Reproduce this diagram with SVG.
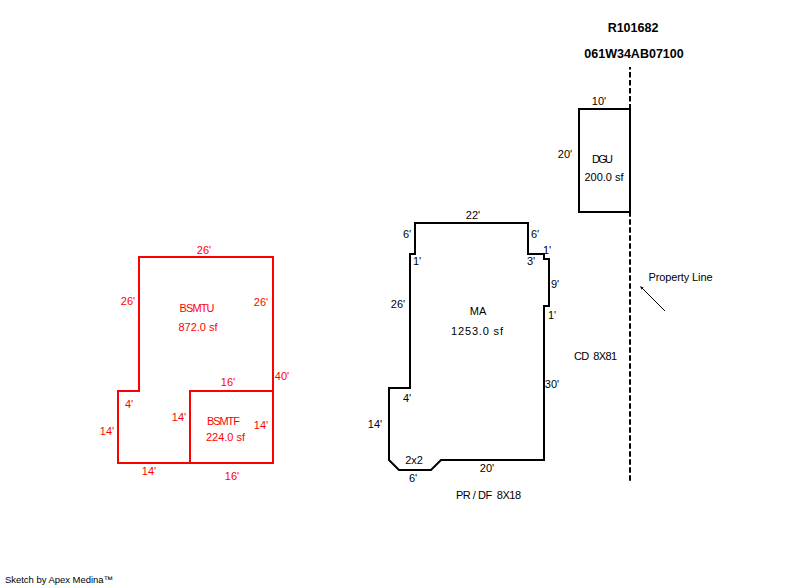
<svg xmlns="http://www.w3.org/2000/svg" width="800" height="587" viewBox="0 0 800 587">
<style>
text{font-family:"Liberation Sans",Arial,sans-serif;font-size:11px;text-anchor:middle;fill:#000;white-space:pre}
.r text{fill:#f00}
.s{fill:none;stroke:#000;stroke-width:2}
.r .s{stroke:#f00}
.b{font-weight:bold;font-size:12.5px}
</style>
<defs><marker id="a" markerWidth="5" markerHeight="5" refX="1" refY="2" orient="auto" markerUnits="userSpaceOnUse"><path d="M0 2L4 0.5V3.5Z" transform="rotate(180 2 2)" fill="#000"/></marker></defs>
<rect width="800" height="587" fill="#fff"/>
<g id="connectors">
<path class="s" stroke-dasharray="5.5 2.5" stroke-dashoffset="3" d="M630 67V109"/>
<path class="s" stroke-dasharray="5.5 2.5" d="M630 211.3V481"/>
<path d="M665 311L642 288" fill="none" stroke="#000" stroke-width="1" marker-end="url(#a)"/>
</g>
<g id="bsmtu" class="r">
<path class="s" d="M139 257H273V463H118V391H139Z"/>
<text x="204" y="254">26'</text>
<text x="128" y="305">26'</text>
<text x="197" y="312" textLength="35">BSMTU</text>
<text x="198" y="331">872.0 sf</text>
<text x="261" y="306">26'</text>
<text x="282" y="380">40'</text>
<text x="129" y="408">4'</text>
<text x="107" y="435">14'</text>
<text x="149" y="475">14'</text>
</g>
<g id="bsmtf" class="r">
<path class="s" d="M190 391H273V463H190Z"/>
<text x="228" y="386">16'</text>
<text x="179" y="421">14'</text>
<text x="223.5" y="425" textLength="33">BSMTF</text>
<text x="225.5" y="441">224.0 sf</text>
<text x="261" y="429">14'</text>
<text x="232" y="480">16'</text>
</g>
<g id="ma">
<path class="s" d="M415 223H528V254H544V259H549V306H544V460H441L431 470H399L389 460V388H410V254H415Z"/>
<text x="473" y="219">22'</text>
<text x="407" y="238">6'</text>
<text x="535" y="238">6'</text>
<text x="547" y="254">1'</text>
<text x="417" y="265">1'</text>
<text x="531" y="265">3'</text>
<text x="555" y="288">9'</text>
<text x="398" y="308">26'</text>
<text x="478" y="315">MA</text>
<text x="477" y="335" textLength="52">1253.0 sf</text>
<text x="552" y="319">1'</text>
<text x="552" y="388">30'</text>
<text x="407" y="402">4'</text>
<text x="375" y="428">14'</text>
<text x="414" y="464">2x2</text>
<text x="413" y="482">6'</text>
<text x="487" y="472">20'</text>
</g>
<g id="dgu">
<path class="s" d="M630 109H579V212H630Z"/>
<text x="599" y="105">10'</text>
<text x="565" y="158">20'</text>
<text x="602.5" y="163" textLength="21">DGU</text>
<text x="604" y="181">200.0 sf</text>
</g>
<g id="labels">
<text class="b" x="633" y="32">R101682</text>
<text class="b" x="634" y="58">061W34AB07100</text>
<text x="680.5" y="281" textLength="64">Property Line</text>
<text x="595.5" y="360" textLength="43">CD  8X81</text>
<text x="488.5" y="499" textLength="65">PR / DF  8X18</text>
<text x="59" y="583" textLength="108" style="font-size:9.5px">Sketch by Apex Medina™</text>
</g>
</svg>
